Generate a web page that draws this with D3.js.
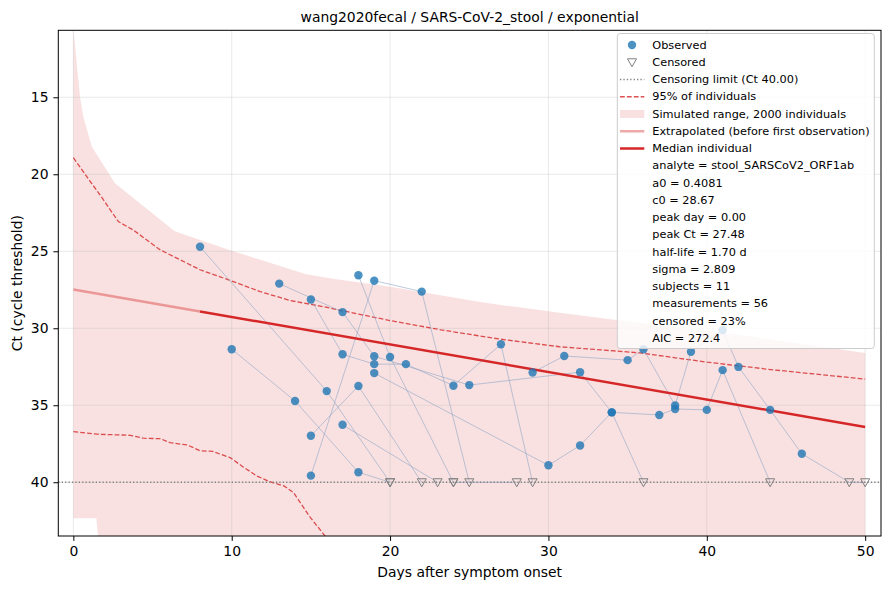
<!DOCTYPE html>
<html>
<head>
<meta charset="utf-8">
<script src="https://cdn.jsdelivr.net/npm/d3@7/dist/d3.min.js"></script>
<style>
  body { margin: 0; background: #fff; }
  svg { font-family: "DejaVu Sans", sans-serif; }
</style>
</head>
<body>
<svg id="chart" width="890" height="590"></svg>
<script>
// ---- data ----
const titleText = 'wang2020fecal / SARS-CoV-2_stool / exponential';
const censLimit = 40;
const firstObsDay = 8;

// observed measurements (subject index, day, Ct)
const obsSubject = [0, 0,  1, 1, 1,  2, 2, 2, 2, 2, 2,  3, 3, 3,  4, 4,
  5, 5, 5, 5, 5, 5,  6,  7, 7,  8, 8, 8, 8, 8, 8, 8, 8,
  10, 10, 10, 10, 10, 10, 10, 10, 10, 10];
const obsDay = [8, 16,  10, 14, 18,  13, 17, 19, 25, 32, 34,  15, 19, 22,  15, 18,
  15, 17, 19, 21, 24, 27,  17,  18, 20,  19, 30, 32, 34, 37, 38, 40, 41,
  29, 31, 35, 36, 38, 39, 41, 42, 44, 46];
const obsCt = [24.71, 34.08,  31.36, 34.72, 39.35,  27.10, 28.95, 31.82, 33.69, 32.85, 35.46,
  39.57, 26.91, 27.62,  36.98, 33.75,
  28.13, 31.69, 32.33, 32.33, 33.73, 31.04,  36.27,  26.56, 31.86,
  32.91, 38.90, 37.61, 35.46, 35.63, 35.24, 35.30, 32.72,
  32.87, 31.80, 32.07, 31.36, 35.01, 31.52, 30.12, 32.51, 35.30, 38.15];

// censored measurements (below detection, drawn at the limit)
const censSubject = [0, 1, 2, 3, 4, 5, 6, 7, 8, 9, 9, 10, 10];
const censDay = [20, 20, 36, 25, 22, 29, 23, 24, 44, 24, 28, 49, 50];

// median individual
const medianDay = [0, 8, 50];
const medianCt = [27.48, 28.91, 36.41];

// 95% of individuals, upper (low Ct) and lower (high Ct) edges
const upperDay = [0, 1.06, 1.68, 2.84, 3.77, 5.47, 8.0, 10.0, 11.8, 13.7, 15.8, 18.1, 20.0, 23.2, 26.9, 30.7, 35.8, 40.0, 44.2, 50.0];
const upperCt = [18.92, 20.46, 21.33, 23.07, 23.61, 24.9, 26.2, 26.93, 27.62, 28.2, 28.6, 29.1, 29.5, 30.1, 30.7, 31.2, 31.6, 32.2, 32.7, 33.3];
const lowerDay = [0, 1.5, 3.6, 4.4, 5.5, 6.1, 7.2, 8.0, 8.8, 9.9, 10.7, 11.6, 12.4, 13.3, 13.9, 14.9, 15.9, 17.0];
const lowerCt = [36.71, 36.88, 36.95, 37.14, 37.17, 37.43, 37.58, 37.95, 38.0, 38.4, 38.99, 39.6, 39.96, 40.24, 40.67, 42.2, 43.5, 44.6];

// simulated range (2000 individuals)
const bandTopDay = [0, 0.42, 0.63, 1.16, 2.63, 6.4, 10.0, 14.7, 16.5, 20.0, 25.7, 30.7, 34.3, 41.2, 50];
const bandTopCt = [10.5, 14.96, 16.26, 18.2, 20.58, 23.7, 24.96, 26.5, 26.8, 27.3, 28.3, 29.0, 29.46, 30.3, 31.6];
const bandBottomDay = [0, 1.45, 1.7, 50];
const bandBottomCt = [42.34, 42.34, 45, 45];

const xTicks = [0, 10, 20, 30, 40, 50];
const yTicks = [15, 20, 25, 30, 35, 40];

const legendStats = [
  'analyte = stool_SARSCoV2_ORF1ab',
  'a0 = 0.4081',
  'c0 = 28.67',
  'peak day = 0.00',
  'peak Ct = 27.48',
  'half-life = 1.70 d',
  'sigma = 2.809',
  'subjects = 11',
  'measurements = 56',
  'censored = 23%',
  'AIC = 272.4'
];

// ---- layout ----
const plot = { left: 58.3, right: 881, top: 30.3, bottom: 536 };
const red = '#d62728';
const blue = '#1f77b4';

const svg = d3.select('#chart');
const x = d3.scaleLinear().domain([-0.95, 51]).range([plot.left, plot.right]);
const y = d3.scaleLinear().domain([10.65, 43.49]).range([plot.top, plot.bottom]);

svg.append('defs').append('clipPath').attr('id', 'plotClip')
  .append('rect')
  .attr('x', plot.left).attr('y', plot.top)
  .attr('width', plot.right - plot.left).attr('height', plot.bottom - plot.top);

const g = svg.append('g').attr('clip-path', 'url(#plotClip)');
const line = d3.line().x(d => x(d[0])).y(d => y(d[1]));
const zip = (a, b) => a.map((v, i) => [v, b[i]]);

// band: top edge forward, bottom edge back
const bandPts = zip(bandTopDay, bandTopCt).concat(zip(bandBottomDay, bandBottomCt).reverse());
g.append('path')
  .attr('d', line(bandPts) + 'Z')
  .attr('fill', red).attr('fill-opacity', 0.14).attr('stroke', 'none');

// grid
g.selectAll('.gx').data(xTicks).enter().append('line')
  .attr('x1', d => x(d)).attr('x2', d => x(d))
  .attr('y1', plot.top).attr('y2', plot.bottom)
  .attr('stroke', '#b0b0b0').attr('stroke-opacity', 0.35).attr('stroke-width', 0.8);
g.selectAll('.gy').data(yTicks).enter().append('line')
  .attr('y1', d => y(d)).attr('y2', d => y(d))
  .attr('x1', plot.left).attr('x2', plot.right)
  .attr('stroke', '#b0b0b0').attr('stroke-opacity', 0.35).attr('stroke-width', 0.8);

// 95% lines
[zip(upperDay, upperCt), zip(lowerDay, lowerCt)].forEach(pts => {
  g.append('path').attr('d', line(pts))
    .attr('fill', 'none').attr('stroke', red).attr('stroke-opacity', 0.8)
    .attr('stroke-width', 1.3).attr('stroke-dasharray', '4.8,2.1');
});

// subject trajectories (observed + censored, sorted by day)
const subjects = d3.group(
  zip(obsDay, obsCt).map((p, i) => ({ s: obsSubject[i], day: p[0], ct: p[1] }))
    .concat(censDay.map((d, i) => ({ s: censSubject[i], day: d, ct: censLimit }))),
  d => d.s
);
for (const [, pts] of subjects) {
  pts.sort((a, b) => a.day - b.day);
  g.append('path')
    .attr('d', line(pts.map(p => [p.day, p.ct])))
    .attr('fill', 'none').attr('stroke', '#8fa6c6')
    .attr('stroke-opacity', 0.6).attr('stroke-width', 1);
}

// median, extrapolated part lighter
const medPts = zip(medianDay, medianCt);
g.append('path').attr('d', line(medPts.filter(p => p[0] <= firstObsDay)))
  .attr('fill', 'none').attr('stroke', red).attr('stroke-opacity', 0.4).attr('stroke-width', 2.5);
g.append('path').attr('d', line(medPts.filter(p => p[0] >= firstObsDay)))
  .attr('fill', 'none').attr('stroke', red).attr('stroke-width', 2.5);

// observed points
g.selectAll('.obs').data(obsDay).enter().append('circle')
  .attr('cx', d => x(d)).attr('cy', (d, i) => y(obsCt[i]))
  .attr('r', 4.2).attr('fill', blue).attr('fill-opacity', 0.8);

// censoring limit
g.append('line')
  .attr('x1', plot.left).attr('x2', plot.right)
  .attr('y1', y(censLimit)).attr('y2', y(censLimit))
  .attr('stroke', '#808080').attr('stroke-width', 1.3).attr('stroke-dasharray', '1.3,2.1');

// censored triangles
const tri = 'M-4.5,-3.5L4.5,-3.5L0,4.5Z';
g.selectAll('.cens').data(censDay).enter().append('path')
  .attr('d', tri)
  .attr('transform', d => `translate(${x(d)},${y(censLimit)})`)
  .attr('fill', 'none').attr('stroke', '#808080').attr('stroke-width', 1);

// ---- axes ----
const xAxis = svg.append('g').attr('transform', `translate(0,${plot.bottom})`)
  .call(d3.axisBottom(x).tickValues(xTicks).tickSize(4.9).tickPadding(4.9));
const yAxis = svg.append('g').attr('transform', `translate(${plot.left},0)`)
  .call(d3.axisLeft(y).tickValues(yTicks).tickSize(4.9).tickPadding(4.9));
[xAxis, yAxis].forEach(a => {
  a.select('.domain').remove();
  a.selectAll('text').attr('font-size', 13.9).attr('fill', '#000').attr('font-family', 'DejaVu Sans');
  a.selectAll('line').attr('stroke', '#000').attr('stroke-width', 1);
});

svg.append('rect')
  .attr('x', plot.left).attr('y', plot.top)
  .attr('width', plot.right - plot.left).attr('height', plot.bottom - plot.top)
  .attr('fill', 'none').attr('stroke', '#000').attr('stroke-width', 1);

svg.append('text').attr('x', (plot.left + plot.right) / 2).attr('y', 577)
  .attr('text-anchor', 'middle').attr('font-size', 13.9).text('Days after symptom onset');
svg.append('text')
  .attr('transform', `translate(22,${(plot.top + plot.bottom) / 2}) rotate(-90)`)
  .attr('text-anchor', 'middle').attr('font-size', 13.9).text('Ct (cycle threshold)');
svg.append('text').attr('x', (plot.left + plot.right) / 2).attr('y', 22)
  .attr('text-anchor', 'middle').attr('font-size', 13.9).text(titleText);

// ---- legend ----
const lg = svg.append('g');
lg.append('rect')
  .attr('x', 617.3).attr('y', 33.5).attr('width', 257).attr('height', 315).attr('rx', 3)
  .attr('fill', '#fff').attr('fill-opacity', 0.8).attr('stroke', '#cccccc').attr('stroke-width', 1);

const rowY = i => 45 + i * 17.25;
const hx0 = 620, hx1 = 644.3, hxm = 632, tx = 652.3;

lg.append('circle').attr('cx', hxm).attr('cy', rowY(0)).attr('r', 4.2)
  .attr('fill', blue).attr('fill-opacity', 0.8);
lg.append('path').attr('d', tri).attr('transform', `translate(${hxm},${rowY(1)})`)
  .attr('fill', 'none').attr('stroke', '#808080');
lg.append('line').attr('x1', hx0).attr('x2', hx1).attr('y1', rowY(2)).attr('y2', rowY(2))
  .attr('stroke', '#808080').attr('stroke-width', 1.3).attr('stroke-dasharray', '1.3,2.1');
lg.append('line').attr('x1', hx0).attr('x2', hx1).attr('y1', rowY(3)).attr('y2', rowY(3))
  .attr('stroke', red).attr('stroke-opacity', 0.8).attr('stroke-width', 1.3).attr('stroke-dasharray', '4.8,2.1');
lg.append('rect').attr('x', hx0).attr('y', rowY(4) - 4).attr('width', hx1 - hx0).attr('height', 8)
  .attr('fill', red).attr('fill-opacity', 0.14);
lg.append('line').attr('x1', hx0).attr('x2', hx1).attr('y1', rowY(5)).attr('y2', rowY(5))
  .attr('stroke', red).attr('stroke-opacity', 0.4).attr('stroke-width', 2.5);
lg.append('line').attr('x1', hx0).attr('x2', hx1).attr('y1', rowY(6)).attr('y2', rowY(6))
  .attr('stroke', red).attr('stroke-width', 2.5);

const legendLabels = ['Observed', 'Censored', `Censoring limit (Ct ${censLimit.toFixed(2)})`,
  '95% of individuals', 'Simulated range, 2000 individuals',
  'Extrapolated (before first observation)', 'Median individual'].concat(legendStats);
lg.selectAll('.lt').data(legendLabels).enter().append('text')
  .attr('x', tx).attr('y', (d, i) => rowY(i))
  .attr('dominant-baseline', 'central')
  .attr('font-size', 11.3).attr('fill', '#000')
  .text(d => d);
</script>
</body>
</html>
